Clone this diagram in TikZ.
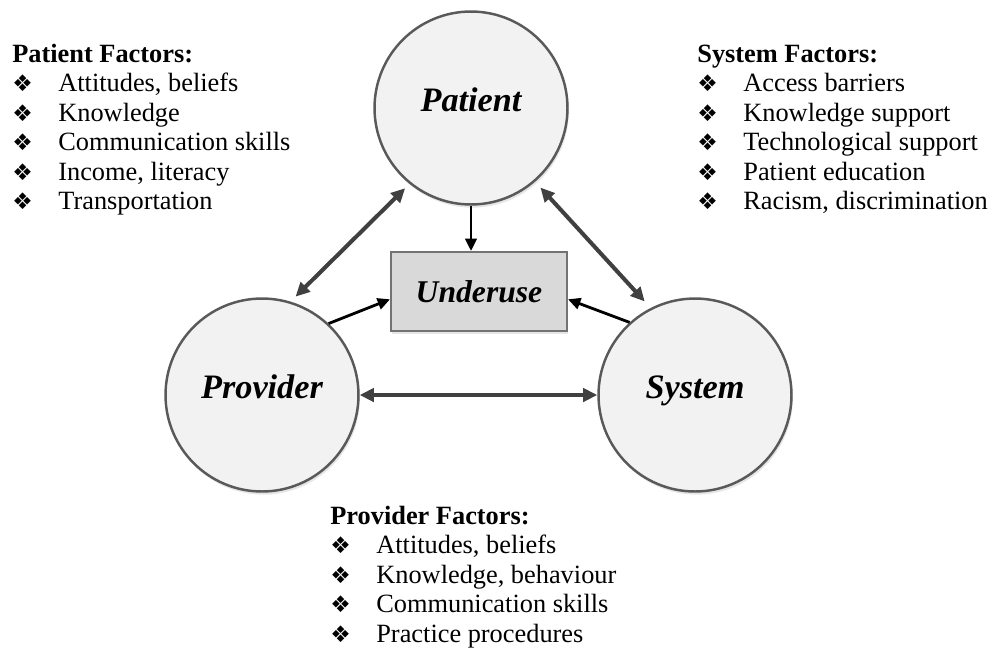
\documentclass[tikz,border=0pt]{standalone}
\usepackage{fontspec}
\setmainfont{Liberation Serif}
\newfontfamily\dingfont{DejaVu Sans}
\usetikzlibrary{arrows.meta,calc,shadows}

\definecolor{circfill}{HTML}{F2F2F2}
\definecolor{circline}{HTML}{595959}
\definecolor{boxfill}{HTML}{D9D9D9}
\definecolor{boxline}{HTML}{737373}
\definecolor{linkgray}{HTML}{404040}

\newcommand\factbullet{{\dingfont\fontsize{13}{13}\selectfont\char"2756}}

\begin{document}
\begin{tikzpicture}[
  x=0.02cm, y=-0.02cm,
  >={Triangle[length=8pt,width=7.5pt]},
  actor/.style={circle, draw=circline, fill=circfill, line width=1.4pt, minimum size=3.86cm,
    font=\fontsize{19.5}{22}\selectfont\bfseries\itshape, text height=0.72em, text depth=0.28em,
    drop shadow={opacity=0.2, shadow xshift=0.8pt, shadow yshift=-1.8pt}},
  outcome/.style={draw=boxline, fill=boxfill, line width=1.2pt, minimum width=3.52cm, minimum height=1.58cm,
    font=\fontsize{18}{20}\selectfont\bfseries\itshape,
    drop shadow={opacity=0.2, shadow xshift=0.8pt, shadow yshift=-1.8pt}},
  link/.style={<->, draw=linkgray, line width=2.3pt},
  effect/.style={-{Triangle[length=7pt,width=6.5pt]}, draw=black, line width=1.6pt},
  factors/.style={font=\fontsize{15}{16.8}\selectfont, inner sep=0pt, align=left}
]
\useasboundingbox (0,0) rectangle (997,650);

% The three actors
\node[actor] (pat) at (471,108) {Patient};
\node[actor] (prov) at (262,395) {Provider};
\node[actor] (sys) at (695,395) {System};

% Outcome in the middle
\node[outcome] (under) at (479,291.5) {Underuse};

% Mutual influence between the actors
\draw[link, shorten >=4pt, shorten <=3.5pt] (pat.231) -- (prov.73);
\draw[link, shorten >=5pt, shorten <=4.5pt] (pat.311) -- (sys.117);
\draw[link] (prov.east) -- (sys.west);

% Each actor feeds the outcome
\draw[effect] (pat.south) -- (pat.south |- under.north);
\draw[effect] (prov.47) -- (under.185);
\draw[effect] (sys.132) -- (under.355);

% Factor lists
\node[factors, anchor=base west] (patfac) at (12,62) {%
  \begin{tabular}[t]{@{}p{0.92cm}@{}l@{}}
    \multicolumn{2}{@{}l@{}}{\textbf{Patient Factors:}}\\
    \factbullet & Attitudes, beliefs\\
    \factbullet & Knowledge\\
    \factbullet & Communication skills\\
    \factbullet & Income, literacy\\
    \factbullet & Transportation
  \end{tabular}};

\node[factors, anchor=base west] (sysfac) at (697,62) {%
  \begin{tabular}[t]{@{}p{0.92cm}@{}l@{}}
    \multicolumn{2}{@{}l@{}}{\textbf{System Factors:}}\\
    \factbullet & Access barriers\\
    \factbullet & Knowledge support\\
    \factbullet & Technological support\\
    \factbullet & Patient education\\
    \factbullet & Racism, discrimination
  \end{tabular}};

\node[factors, anchor=base west] (provfac) at (330,524) {%
  \begin{tabular}[t]{@{}p{0.92cm}@{}l@{}}
    \multicolumn{2}{@{}l@{}}{\textbf{Provider Factors:}}\\
    \factbullet & Attitudes, beliefs\\
    \factbullet & Knowledge, behaviour\\
    \factbullet & Communication skills\\
    \factbullet & Practice procedures
  \end{tabular}};

\end{tikzpicture}
\end{document}
